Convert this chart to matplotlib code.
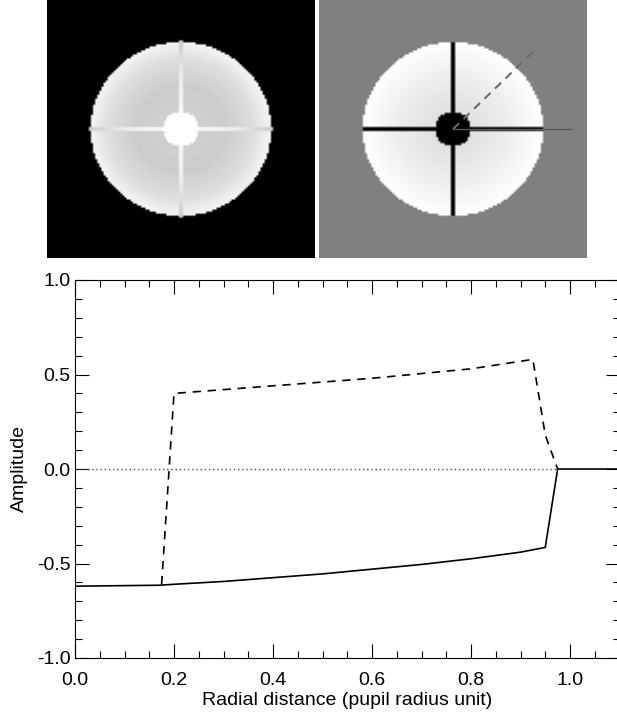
import numpy as np
import matplotlib.pyplot as plt

plt.rcParams['font.family'] = ['Liberation Sans', 'DejaVu Sans']

# radial profiles
solid_x = [0.0, 0.17, 0.2, 0.3, 0.4, 0.5, 0.6, 0.7, 0.8, 0.9, 0.95, 0.975, 1.1]
solid_y = [-0.62, -0.615, -0.61, -0.595, -0.575, -0.555, -0.53, -0.505, -0.475, -0.44, -0.415, 0.0, 0.0]
dash_x = [0.175, 0.2, 0.4, 0.6, 0.8, 0.925, 0.95, 0.975]
dash_y = [-0.61, 0.40, 0.44, 0.48, 0.53, 0.58, 0.18, 0.0]

# pupil geometry (in pupil radius units) and gray levels of the two pupil pictures
obscuration = 0.2
spider_half = 0.028
left_r = [0.2, 0.5, 0.8, 1.0]
left_gray = [0.81, 0.80, 0.87, 0.96]
left_spider_r = [0.2, 0.6, 1.0]
left_spider_gray = [0.97, 0.93, 0.80]
right_r = [0.2, 0.6, 1.0]
right_gray = [0.88, 0.93, 1.0]

fig = plt.figure(figsize=(6.17, 7.15), dpi=100)

# pixel grid for the pupil images
n = 128
scale = 268 / 91 / 2  # half image width in pupil radii
u = np.linspace(-scale, scale, n)
X, Y = np.meshgrid(u, u)
R = np.hypot(X, Y)
pupil = R <= 1.0
centre = R <= obscuration

# left picture: black outside, bright spiders and centre
img1 = np.zeros_like(R)
img1[pupil] = np.interp(R[pupil], left_r, left_gray)
sp1 = ((np.abs(X) < spider_half) | (np.abs(Y) < spider_half)) & (R <= 1.03)
img1[sp1] = np.interp(R[sp1], left_spider_r, left_spider_gray)
img1[centre] = 1.0

ax1 = fig.add_axes([47 / 617, 1 - 258 / 715, 268 / 617, 258 / 715])
ax1.imshow(img1, cmap='gray', vmin=0, vmax=1, interpolation='bilinear',
           extent=[-scale, scale, -scale, scale], aspect='auto')
ax1.axis('off')

# right picture: gray background, black spiders and centre
img2 = np.full_like(R, 0.5)
img2[pupil] = np.interp(R[pupil], right_r, right_gray)
sp2 = ((np.abs(X) < spider_half * 1.2) | (np.abs(Y) < spider_half * 1.2)) & (R <= 1.0)
img2[sp2] = 0.0
img2[centre] = 0.0

ax2 = fig.add_axes([319 / 617, 1 - 258 / 715, 268 / 617, 258 / 715])
ax2.imshow(img2, cmap='gray', vmin=0, vmax=1, interpolation='bilinear',
           extent=[-scale, scale, -scale, scale], aspect='auto')
d = 1.24 / np.sqrt(2)
ax2.plot([0, d], [0, d], color='0.42', lw=1.5, ls=(0, (4, 3)))
ax2.plot([0, 1.3], [0, 0], color='0.35', lw=1.0)
ax2.set_xlim(-scale, scale)
ax2.set_ylim(-scale, scale)
ax2.axis('off')

# profile plot
ax = fig.add_axes([75 / 617, 1 - 658 / 715, 544.5 / 617, 378 / 715])
ax.plot([0, 0.975], [0, 0], color='0.3', lw=1, ls=(0, (1, 2)))
ax.plot(solid_x, solid_y, color='black', lw=1.2)
ax.plot(dash_x, dash_y, color='black', lw=1.2, ls=(0, (5, 4)))
ax.set_xlim(0, 1.1)
ax.set_ylim(-1, 1)
ax.set_xticks(np.arange(0, 1.01, 0.2))
ax.set_xticks(np.arange(0, 1.1, 0.05), minor=True)
ax.set_yticks(np.arange(-1, 1.01, 0.5))
ax.set_yticks(np.arange(-1, 1.01, 0.1), minor=True)
ax.set_xticklabels(['%.1f' % v for v in np.arange(0, 1.01, 0.2)])
ax.set_yticklabels(['%.1f' % v for v in np.arange(-1, 1.01, 0.5)])
ax.tick_params(which='both', direction='in', top=True, right=True, labelsize=14, width=0.8)
ax.tick_params(which='major', length=10)
ax.tick_params(which='minor', length=5)
ax.tick_params(axis='x', which='major', pad=10)
ax.tick_params(axis='y', which='major', pad=3)
ax.set_xlabel('Radial distance (pupil radius unit)', fontsize=14, labelpad=2)
ax.set_ylabel('Amplitude', fontsize=14, labelpad=7)

fig.savefig('out.png', dpi=100)
